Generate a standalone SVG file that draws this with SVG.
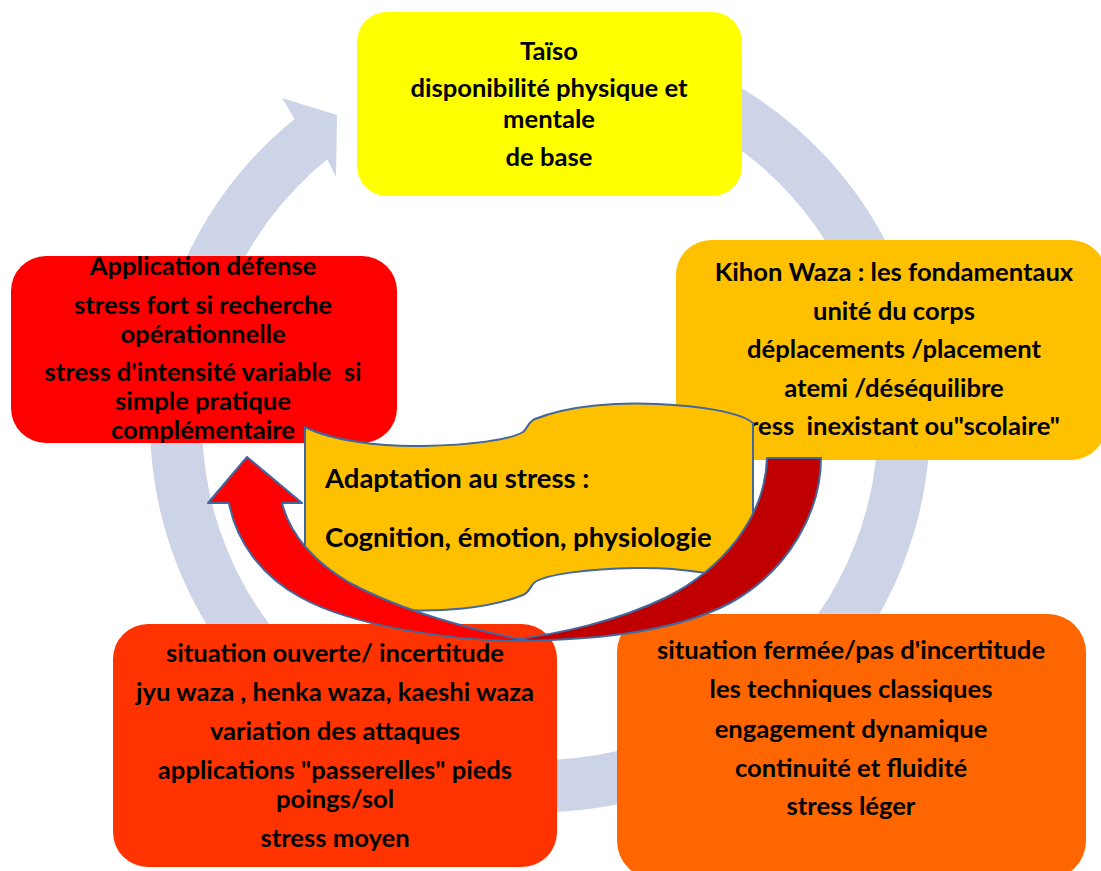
<svg xmlns="http://www.w3.org/2000/svg" width="1101" height="871" viewBox="0 0 1101 871">
<style>
.t{font-family:Lato,"Open Sans","Liberation Sans",sans-serif;font-weight:bold;font-size:25.6px;fill:#000;text-anchor:middle;white-space:pre}
.b{font-family:Lato,"Open Sans","Liberation Sans",sans-serif;font-weight:bold;font-size:27.5px;fill:#000}
.ol{stroke:#41679F;stroke-width:2;stroke-linejoin:round}
</style>
<rect width="1101" height="871" fill="#fff"/>
<g id="cycle">
<path d="M439.1,45.3 A390,390 0 1,1 294.6,118.9 L282,98 L337,115 L336,177 L327.3,159.3 A338,338 0 1,0 452.5,95.5 Z" fill="#CDD4E8"/>
</g>
<g id="taiso">
<rect x="357" y="12" width="385" height="184" rx="30" fill="#FFFF00"/>
<text class="t" x="549" y="60">Taïso</text>
<text class="t" x="549" y="97">disponibilité physique et</text>
<text class="t" x="549" y="128">mentale</text>
<text class="t" x="549" y="166">de base</text>
</g>
<g id="kihon">
<rect x="676" y="240" width="430" height="220" rx="35" fill="#FFC000"/>
<text class="t" x="894" y="281">Kihon Waza : les fondamentaux</text>
<text class="t" x="894" y="320">unité du corps</text>
<text class="t" x="894" y="358">déplacements /placement</text>
<text class="t" x="894" y="397">atemi /déséquilibre</text>
<text class="t" x="894" y="435" xml:space="preserve">stress  inexistant ou"scolaire"</text>
</g>
<g id="application">
<rect x="11" y="256" width="386" height="187" rx="35" fill="#FF0000"/>
<text class="t" x="203" y="275">Application défense</text>
<text class="t" x="203" y="314">stress fort si recherche</text>
<text class="t" x="203" y="343">opérationnelle</text>
<text class="t" x="203" y="381" xml:space="preserve">stress d'intensité variable  si</text>
<text class="t" x="203" y="410">simple pratique</text>
<text class="t" x="203" y="439">complémentaire</text>
</g>
<g id="ouverte">
<rect x="113" y="624" width="444" height="243" rx="35" fill="#FF3300"/>
<text class="t" x="335" y="662">situation ouverte/ incertitude</text>
<text class="t" x="335" y="701">jyu waza , henka waza, kaeshi waza</text>
<text class="t" x="335" y="740">variation des attaques</text>
<text class="t" x="335" y="779">applications "passerelles" pieds</text>
<text class="t" x="335" y="808">poings/sol</text>
<text class="t" x="335" y="847">stress moyen</text>
</g>
<g id="fermee">
<rect x="617" y="614" width="469" height="265" rx="38" fill="#FF6600"/>
<text class="t" x="851" y="659">situation fermée/pas d'incertitude</text>
<text class="t" x="851" y="698">les techniques classiques</text>
<text class="t" x="851" y="738">engagement dynamique</text>
<text class="t" x="851" y="777">continuité et fluidité</text>
<text class="t" x="851" y="815">stress léger</text>
</g>
<g id="adaptation">
<path class="ol" fill="#FFC000" d="M305,427 C330,440 380,447 423,446 C470,445 510,440 523,432 C528,428 528,422 535,419 C570,405 620,402 657,404 C700,406 740,412 753,423 L753,587 C728,574 678,567 635,568 C588,569 548,574 535,582 C530,586 530,592 523,595 C488,609 438,612 401,610 C358,608 318,602 305,591 Z"/>
<text class="b" x="325" y="488">Adaptation au stress :</text>
<text class="b" x="325" y="547">Cognition, émotion, physiologie</text>
</g>
<g id="connectors">
<path class="ol" fill="#C00000" d="M767,458 L821,458 C821,510 790,570 730,603 C670,635 580,641 500,641 C560,635 620,620 667,597 C720,570 765,520 767,458 Z"/>
<path class="ol" fill="#FF0000" d="M229,503 L208,503 L247,457 L302,503 L282,503 C290,535 315,563 350,583 C400,610 470,630 530,641 C450,642 350,625 300,597 C260,575 236,540 229,503 Z"/>
</g>
</svg>
